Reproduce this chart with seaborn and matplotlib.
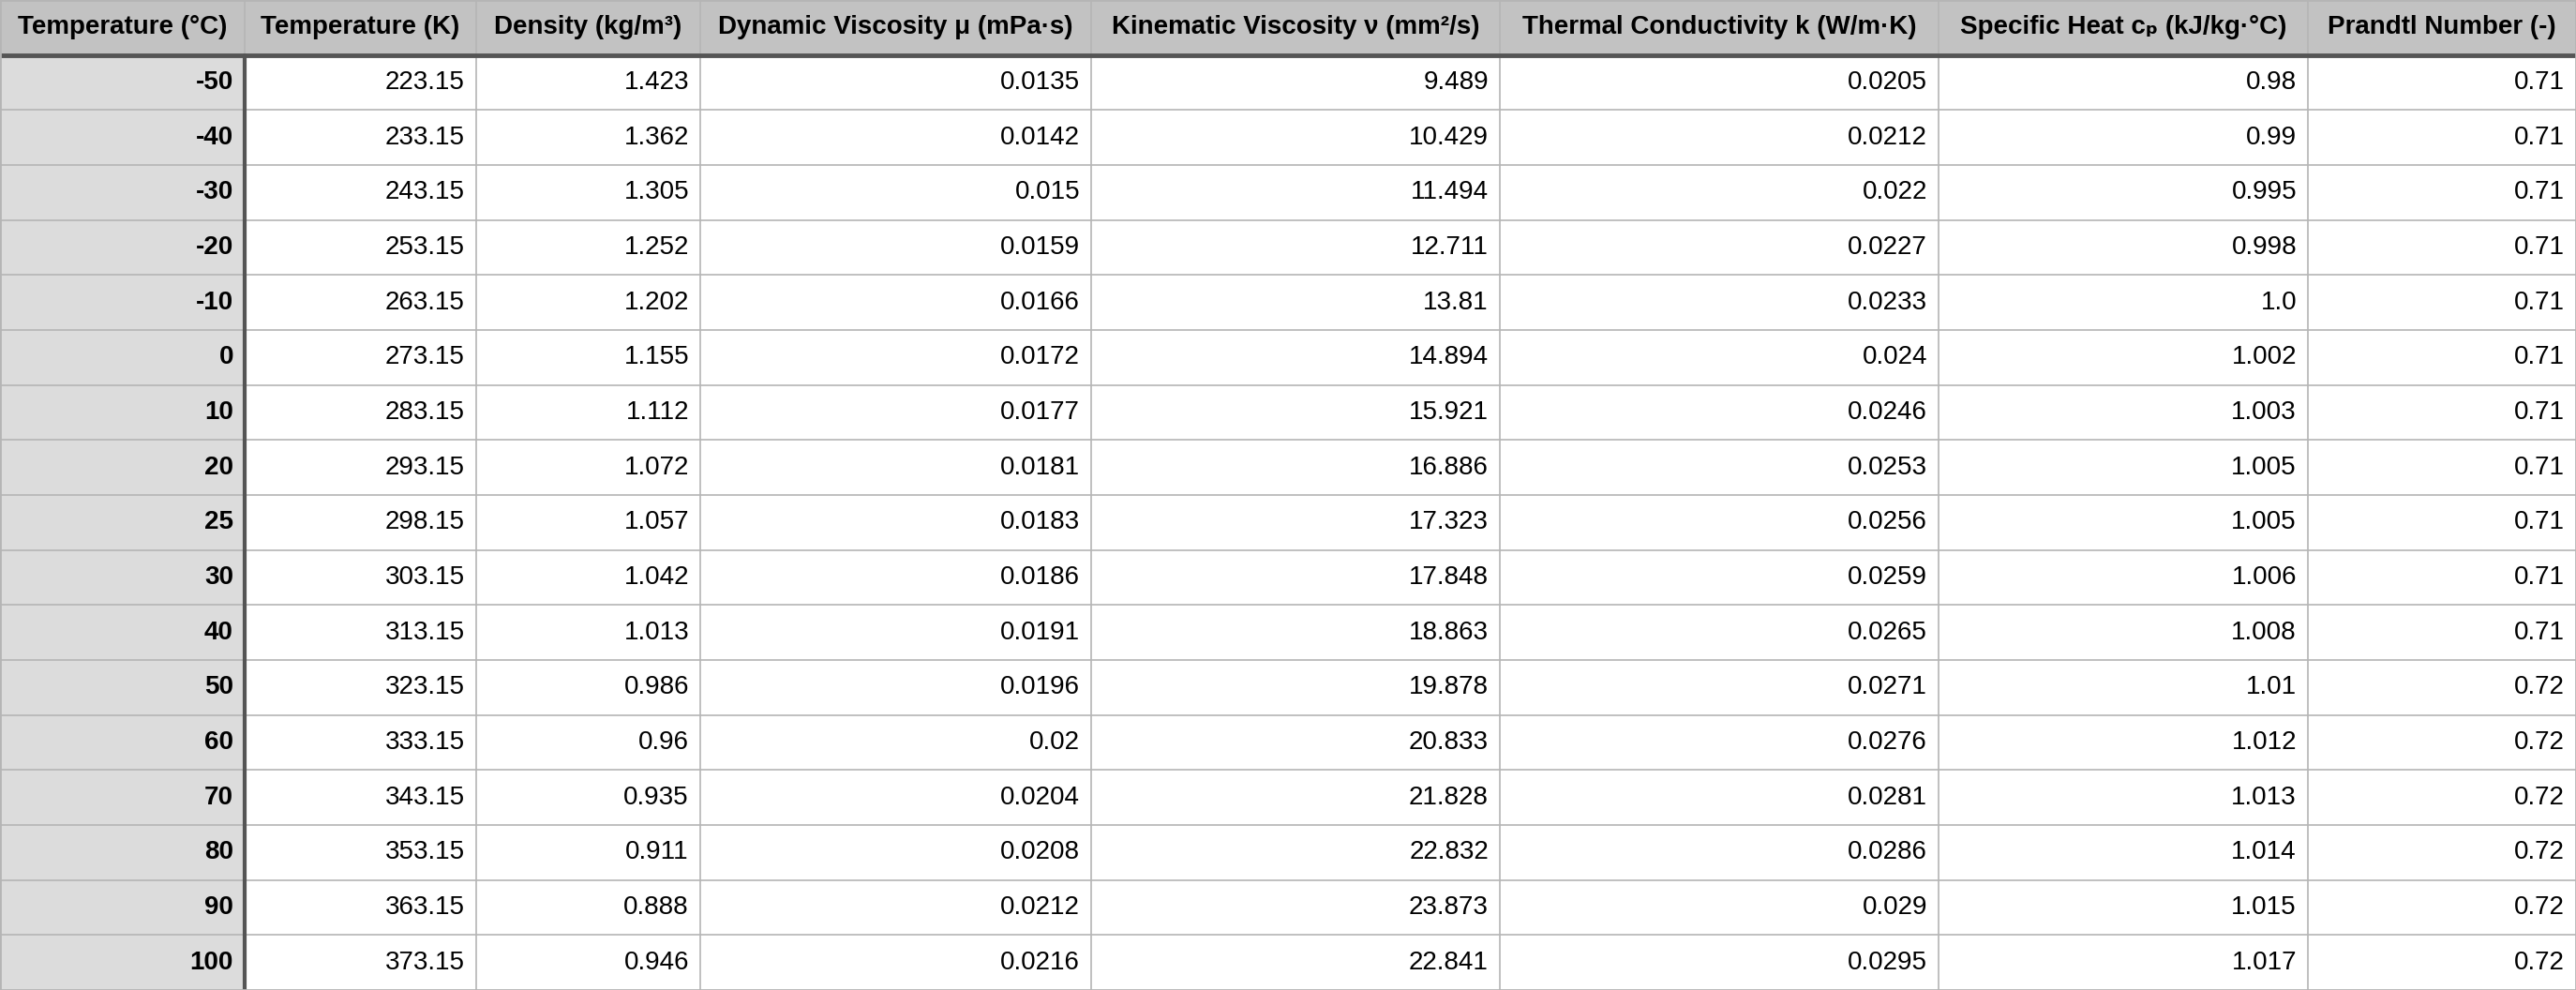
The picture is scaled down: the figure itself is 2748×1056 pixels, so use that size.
import matplotlib
matplotlib.use("Agg")
import matplotlib.pyplot as plt
import seaborn as sns
from matplotlib.patches import Rectangle

sns.set_style("white")
plt.rcParams['font.family'] = ['Liberation Sans', 'DejaVu Sans']

headers = ["Temperature (°C)", "Temperature (K)", "Density (kg/m³)", "Dynamic Viscosity μ (mPa·s)",
           "Kinematic Viscosity ν (mm²/s)", "Thermal Conductivity k (W/m·K)",
           "Specific Heat cₚ (kJ/kg·°C)", "Prandtl Number (-)"]
temp_c = ["-50", "-40", "-30", "-20", "-10", "0", "10", "20", "25", "30", "40", "50", "60", "70", "80", "90", "100"]
temp_k = ["223.15", "233.15", "243.15", "253.15", "263.15", "273.15", "283.15", "293.15", "298.15", "303.15",
          "313.15", "323.15", "333.15", "343.15", "353.15", "363.15", "373.15"]
density = ["1.423", "1.362", "1.305", "1.252", "1.202", "1.155", "1.112", "1.072", "1.057", "1.042",
           "1.013", "0.986", "0.96", "0.935", "0.911", "0.888", "0.946"]
dyn_visc = ["0.0135", "0.0142", "0.015", "0.0159", "0.0166", "0.0172", "0.0177", "0.0181", "0.0183", "0.0186",
            "0.0191", "0.0196", "0.02", "0.0204", "0.0208", "0.0212", "0.0216"]
kin_visc = ["9.489", "10.429", "11.494", "12.711", "13.81", "14.894", "15.921", "16.886", "17.323", "17.848",
            "18.863", "19.878", "20.833", "21.828", "22.832", "23.873", "22.841"]
therm_k = ["0.0205", "0.0212", "0.022", "0.0227", "0.0233", "0.024", "0.0246", "0.0253", "0.0256", "0.0259",
           "0.0265", "0.0271", "0.0276", "0.0281", "0.0286", "0.029", "0.0295"]
cp = ["0.98", "0.99", "0.995", "0.998", "1.0", "1.002", "1.003", "1.005", "1.005", "1.006",
      "1.008", "1.01", "1.012", "1.013", "1.014", "1.015", "1.017"]
prandtl = ["0.71"] * 11 + ["0.72"] * 6

columns = [temp_c, temp_k, density, dyn_visc, kin_visc, therm_k, cp, prandtl]
col_edges = [0, 261, 508, 747, 1164, 1600, 2068, 2462, 2748]
W, H = 2748, 1056
nrows = len(temp_c) + 1
rh = H / nrows

fig = plt.figure(figsize=(W / 100, H / 100), dpi=100)
ax = fig.add_axes([0, 0, 1, 1])
ax.set_xlim(0, W)
ax.set_ylim(H, 0)
ax.axis("off")

fs = 20
# header background
ax.add_patch(Rectangle((0, 0), W, rh, facecolor="#c2c2c2", edgecolor="none"))
# first column background
ax.add_patch(Rectangle((0, rh), col_edges[1], H - rh, facecolor="#dcdcdc", edgecolor="none"))

for j, h in enumerate(headers):
    x0, x1 = col_edges[j], col_edges[j + 1]
    ax.text((x0 + x1) / 2, rh / 2, h, ha="center", va="center", fontsize=fs, fontweight="bold", color="black")
    col = columns[j]
    for i, v in enumerate(col):
        y = rh * (i + 1.5)
        ax.text(x1 - 12, y, v, ha="right", va="center", fontsize=fs,
                fontweight="bold" if j == 0 else "normal", color="black")

# grid lines
for i in range(1, nrows):
    ax.plot([0, W], [rh * i, rh * i], color="#b5b5b5", lw=1.2)
for x in col_edges[1:-1]:
    ax.plot([x, x], [0, H], color="#b5b5b5", lw=1.2)
ax.plot([0, W], [rh, rh], color="#555555", lw=3.5)
ax.plot([col_edges[1], col_edges[1]], [rh, H], color="#555555", lw=3)
ax.plot([0, W, W, 0, 0], [0, 0, H, H, 0], color="#b5b5b5", lw=2)

fig.savefig("out.png", dpi=100)
